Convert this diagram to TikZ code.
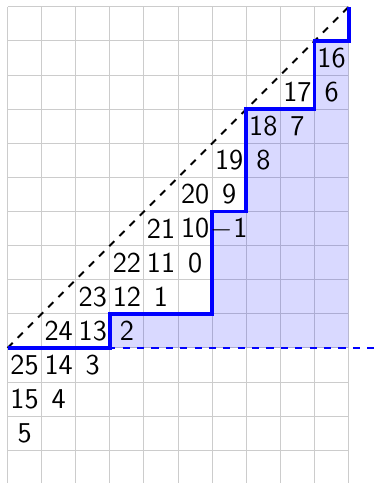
\documentclass[tikz,border=0pt]{standalone}
\usepackage{tikz}
\begin{document}
\begin{tikzpicture}[x=0.5cm, y=0.5cm, font=\large\sffamily]
  \tikzset{cell/.style={inner sep=0pt},
           stair/.style={blue, ultra thick, line join=miter},
           region/.style={fill=blue, fill opacity=0.15}}
  \useasboundingbox (-0.22,-3.96) rectangle (10.89,10.2);

  % background grid
  \draw[gray!40, step=0.5cm] (0,-4) grid (10,10);

  % area below the staircase
  \fill[region] (3,0) -- (3,1) -- (6,1) -- (6,4) -- (7,4) -- (7,7)
        -- (9,7) -- (9,9) -- (10,9) -- (10,0) -- cycle;

  % axis and diagonal
  \draw[blue, semithick, dashed] (0,0) -- (10.89,0);
  \draw[thick, dashed] (0,0) -- (10,10);

  % the staircase boundary
  \draw[stair] (0,0) -- (3,0) -- (3,1) -- (6,1) -- (6,4) -- (7,4)
        -- (7,7) -- (9,7) -- (9,9) -- (10,9) -- (10,10);

  % labels along the three diagonals
  \foreach \c in {0,...,9} {
    \pgfmathtruncatemacro{\va}{25-\c}
    \pgfmathtruncatemacro{\vb}{15-\c}
    \node[cell] (a\c) at (\c+0.5,\c-0.5) {\va};
    \node[cell] (b\c) at (\c+0.5,\c-1.5) {\vb};
  }
  \foreach \c in {0,...,5} {
    \pgfmathtruncatemacro{\vc}{5-\c}
    \node[cell] (c\c) at (\c+0.5,\c-2.5) {\vc};
  }
  \node[cell] (c6) at (6.5,3.5) {$-$1};
\end{tikzpicture}
\end{document}
